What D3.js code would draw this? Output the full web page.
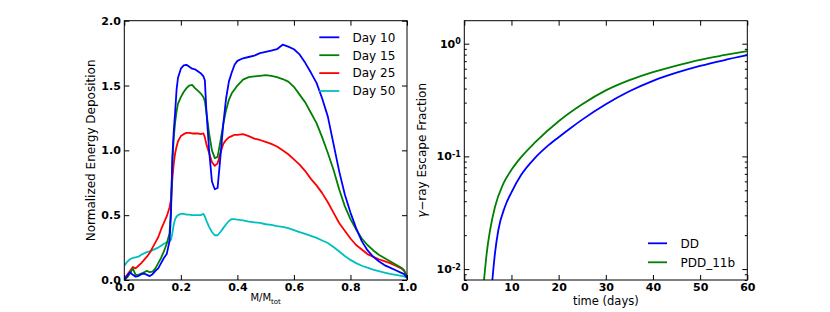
<!DOCTYPE html>
<html>
<head>
<meta charset="utf-8">
<script src="https://cdn.jsdelivr.net/npm/d3@7"></script>
<style>
  html, body { margin: 0; padding: 0; background: #fff; }
  svg { display: block; font-family: "DejaVu Sans", sans-serif; }
</style>
</head>
<body>
<svg id="chart" width="830" height="312"></svg>
<script>
// ---------------- DATA ----------------
const massX = [0,0.01,0.02,0.03,0.04,0.05,0.06,0.07,0.08,0.09,0.10,0.11,0.12,0.13,0.14,0.15,0.16,0.165,0.17,0.175,0.18,0.185,0.19,0.2,0.21,0.22,0.23,0.24,0.25,0.26,0.27,0.28,0.285,0.29,0.3,0.31,0.32,0.33,0.34,0.35,0.36,0.37,0.38,0.39,0.4,0.42,0.44,0.46,0.48,0.5,0.52,0.54,0.56,0.58,0.6,0.62,0.64,0.66,0.68,0.7,0.72,0.74,0.76,0.78,0.8,0.82,0.84,0.86,0.88,0.9,0.92,0.94,0.96,0.98,0.99,1.0];

const day10 = [0.005,0.03,0.06,0.04,0.026,0.03,0.045,0.05,0.04,0.03,0.045,0.07,0.09,0.13,0.17,0.2,0.3,0.5,0.95,1.15,1.3,1.47,1.56,1.63,1.655,1.66,1.645,1.63,1.625,1.61,1.595,1.57,1.54,1.32,1.0,0.76,0.7,0.71,0.95,1.2,1.4,1.53,1.6,1.66,1.69,1.71,1.72,1.73,1.75,1.76,1.77,1.78,1.815,1.8,1.78,1.74,1.675,1.6,1.52,1.4,1.26,1.05,0.84,0.66,0.52,0.4,0.3,0.23,0.18,0.145,0.115,0.095,0.075,0.055,0.045,0.015];

const day15 = [0.0,0.02,0.05,0.09,0.04,0.04,0.05,0.06,0.07,0.06,0.065,0.09,0.13,0.17,0.22,0.28,0.36,0.55,0.9,1.1,1.22,1.3,1.36,1.41,1.45,1.48,1.5,1.505,1.48,1.46,1.44,1.41,1.38,1.3,1.13,1.0,0.94,0.95,1.07,1.2,1.31,1.39,1.44,1.47,1.5,1.545,1.565,1.57,1.575,1.58,1.575,1.565,1.55,1.53,1.49,1.43,1.37,1.29,1.21,1.1,0.98,0.85,0.7,0.57,0.47,0.39,0.32,0.27,0.23,0.195,0.17,0.145,0.12,0.095,0.075,0.02];

const day25 = [0.0,0.04,0.07,0.1,0.09,0.11,0.13,0.155,0.18,0.21,0.25,0.29,0.33,0.39,0.44,0.49,0.56,0.62,0.78,0.9,0.98,1.03,1.07,1.11,1.125,1.135,1.135,1.13,1.13,1.13,1.125,1.13,1.1,1.05,0.98,0.91,0.88,0.9,0.98,1.05,1.08,1.1,1.11,1.12,1.12,1.125,1.11,1.09,1.08,1.065,1.05,1.03,1.0,0.97,0.93,0.89,0.84,0.78,0.73,0.67,0.6,0.52,0.44,0.38,0.32,0.27,0.235,0.2,0.18,0.16,0.145,0.13,0.11,0.09,0.07,0.025];

const day50 = [0.11,0.14,0.16,0.17,0.175,0.18,0.195,0.205,0.215,0.22,0.23,0.24,0.25,0.265,0.28,0.29,0.3,0.31,0.36,0.43,0.47,0.49,0.5,0.51,0.51,0.505,0.505,0.5,0.5,0.5,0.5,0.51,0.49,0.46,0.41,0.37,0.345,0.345,0.37,0.4,0.43,0.455,0.47,0.47,0.465,0.46,0.45,0.445,0.44,0.43,0.425,0.415,0.41,0.4,0.385,0.37,0.355,0.34,0.325,0.305,0.285,0.255,0.22,0.185,0.155,0.13,0.11,0.095,0.08,0.068,0.057,0.047,0.04,0.032,0.028,0.02];

const depositionNames = ["Day 10","Day 15","Day 25","Day 50"];
const depositionColors = ["#0000ff","#008000","#ff0000","#00bfbf"];

const ddDays = [5.95,6.5,7.2,8.6,10,12,15,17.5,20,22.5,25,30,35,40,45,50,55,60];
const ddEscape = [0.008,0.0138,0.022,0.0356,0.048,0.068,0.097,0.122,0.148,0.178,0.212,0.29,0.378,0.468,0.553,0.635,0.713,0.79];
const pddDays = [4.18,4.75,5.45,6.5,8.27,10,12,15,20,25,30,35,40,45,50,55,60];
const pddEscape = [0.008,0.0138,0.022,0.0356,0.0573,0.076,0.098,0.133,0.205,0.29,0.385,0.475,0.56,0.64,0.72,0.79,0.86];
const escapeNames = ["DD","PDD_11b"];
const escapeColors = ["#0000ff","#008000"];

const leftXTicks = [0,0.2,0.4,0.6,0.8,1.0];
const leftYTicks = [0,0.5,1.0,1.5,2.0];
const rightXTicks = [0,10,20,30,40,50,60];
const rightYMajor = [0.01,0.1,1];
const rightYExp = ["-2","-1","0"];

// ---------------- LAYOUT ----------------
const svg = d3.select("#chart");
const L = {x0:124.3, x1:407, y0:280, y1:20.7};
const R = {x0:464.3, x1:747.3, y0:280, y1:20.7};
const tickFont = 11;

const xL = d3.scaleLinear().domain([0,1]).range([L.x0, L.x1]);
const yL = d3.scaleLinear().domain([0,2]).range([L.y0, L.y1]);
const xR = d3.scaleLinear().domain([0,60]).range([R.x0, R.x1]);
const yR = d3.scaleLog().domain([0.008,1.6]).range([R.y0, R.y1]);

function styleAxis(g) {
  g.select(".domain").remove();
  g.selectAll(".tick line").attr("stroke","#000").attr("stroke-width",1);
  g.selectAll(".tick text").attr("fill","#000").attr("font-size",tickFont)
    .attr("font-weight","bold").attr("font-family","DejaVu Sans, sans-serif");
}

// ---------- LEFT PANEL ----------
const fmt1 = d3.format(".1f");
svg.append("g").attr("transform",`translate(0,${L.y0})`)
  .call(d3.axisBottom(xL).tickValues(leftXTicks).tickFormat(fmt1).tickSizeInner(-5).tickSizeOuter(0).tickPadding(3.5))
  .call(styleAxis);
svg.append("g").attr("transform",`translate(0,${L.y1})`)
  .call(d3.axisTop(xL).tickValues(leftXTicks).tickFormat("").tickSizeInner(-5).tickSizeOuter(0))
  .call(styleAxis);
svg.append("g").attr("transform",`translate(${L.x0},0)`)
  .call(d3.axisLeft(yL).tickValues(leftYTicks).tickFormat(fmt1).tickSizeInner(-5).tickSizeOuter(0).tickPadding(3.5))
  .call(styleAxis);
svg.append("g").attr("transform",`translate(${L.x1},0)`)
  .call(d3.axisRight(yL).tickValues(leftYTicks).tickFormat("").tickSizeInner(-5).tickSizeOuter(0))
  .call(styleAxis);

svg.append("clipPath").attr("id","clipL").append("rect")
  .attr("x",L.x0).attr("y",L.y1).attr("width",L.x1-L.x0).attr("height",L.y0-L.y1);

const lineL = d3.line().x((d,i)=>xL(massX[i])).y(d=>yL(d));
const depSeries = [day10, day15, day25, day50];
svg.append("g").attr("clip-path","url(#clipL)").selectAll("path").data(depSeries.slice().reverse()).join("path")
  .attr("d", lineL).attr("fill","none")
  .attr("stroke",(d,i)=>depositionColors[depSeries.length-1-i])
  .attr("stroke-width",1.8).attr("stroke-linejoin","round");

svg.append("rect").attr("x",L.x0).attr("y",L.y1).attr("width",L.x1-L.x0).attr("height",L.y0-L.y1)
  .attr("fill","none").attr("stroke","#000").attr("stroke-width",1);

// legend left
const legL = svg.append("g");
depositionNames.forEach((n,i)=>{
  const yy = 37.3 + i*17.9;
  legL.append("line").attr("x1",319.3).attr("x2",339.3).attr("y1",yy).attr("y2",yy)
    .attr("stroke",depositionColors[i]).attr("stroke-width",1.8);
  legL.append("text").attr("x",352.5).attr("y",yy).attr("dy","0.36em")
    .attr("font-size",12).attr("fill","#000").text(n);
});

// axis labels left
svg.append("text").attr("transform","translate(94.5,150.4) rotate(-90)")
  .attr("text-anchor","middle").attr("font-size",12).attr("fill","#000")
  .text("Normalized Energy Deposition");
const mLabel = svg.append("text").attr("x",(L.x0+L.x1)/2).attr("y",301)
  .attr("text-anchor","middle").attr("font-size",10).attr("fill","#000");
mLabel.append("tspan").text("M/M");
mLabel.append("tspan").attr("font-size",7).attr("dy",2.5).text("tot");

// ---------- RIGHT PANEL ----------
svg.append("g").attr("transform",`translate(0,${R.y0})`)
  .call(d3.axisBottom(xR).tickValues(rightXTicks).tickFormat(d3.format("d")).tickSizeInner(-5).tickSizeOuter(0).tickPadding(3.5))
  .call(styleAxis);
svg.append("g").attr("transform",`translate(0,${R.y1})`)
  .call(d3.axisTop(xR).tickValues(rightXTicks).tickFormat("").tickSizeInner(-5).tickSizeOuter(0))
  .call(styleAxis);

const minorVals = [];
[-3,-2,-1,0].forEach(e=>{ for(let m=2;m<=9;m++){ const v=m*Math.pow(10,e); if(v>=0.008 && v<=1.6) minorVals.push(v);} });

const yLeftMajor = svg.append("g").attr("transform",`translate(${R.x0},0)`)
  .call(d3.axisLeft(yR).tickValues(rightYMajor).tickFormat(()=>"10").tickSizeInner(-5).tickSizeOuter(0).tickPadding(3.5))
  .call(styleAxis);
yLeftMajor.selectAll(".tick text").each(function(d,i){
  d3.select(this).append("tspan").attr("dy","-0.45em").attr("font-size",8).text(rightYExp[i]);
});
svg.append("g").attr("transform",`translate(${R.x0},0)`)
  .call(d3.axisLeft(yR).tickValues(minorVals).tickFormat("").tickSizeInner(-2.5).tickSizeOuter(0))
  .call(styleAxis);
svg.append("g").attr("transform",`translate(${R.x1},0)`)
  .call(d3.axisRight(yR).tickValues(rightYMajor).tickFormat("").tickSizeInner(-5).tickSizeOuter(0))
  .call(styleAxis);
svg.append("g").attr("transform",`translate(${R.x1},0)`)
  .call(d3.axisRight(yR).tickValues(minorVals).tickFormat("").tickSizeInner(-2.5).tickSizeOuter(0))
  .call(styleAxis);

svg.append("clipPath").attr("id","clipR").append("rect")
  .attr("x",R.x0).attr("y",R.y1).attr("width",R.x1-R.x0).attr("height",R.y0-R.y1);

const escSeries = [
  ddDays.map((t,i)=>[t, ddEscape[i]]),
  pddDays.map((t,i)=>[t, pddEscape[i]])
];
const lineR = d3.line().x(d=>xR(d[0])).y(d=>yR(d[1])).curve(d3.curveMonotoneX);
svg.append("g").attr("clip-path","url(#clipR)").selectAll("path").data(escSeries).join("path")
  .attr("d", lineR).attr("fill","none").attr("stroke",(d,i)=>escapeColors[i]).attr("stroke-width",1.8);

svg.append("rect").attr("x",R.x0).attr("y",R.y1).attr("width",R.x1-R.x0).attr("height",R.y0-R.y1)
  .attr("fill","none").attr("stroke","#000").attr("stroke-width",1);

// legend right
escapeNames.forEach((n,i)=>{
  const yy = 243.3 + i*19;
  svg.append("line").attr("x1",648).attr("x2",667).attr("y1",yy).attr("y2",yy)
    .attr("stroke",escapeColors[i]).attr("stroke-width",1.8);
  svg.append("text").attr("x",680.5).attr("y",yy).attr("dy","0.36em")
    .attr("font-size",12).attr("fill","#000").text(n);
});

// axis labels right
const gl = svg.append("text").attr("transform","translate(425.5,150.4) rotate(-90)")
  .attr("text-anchor","middle").attr("font-size",12).attr("fill","#000");
gl.append("tspan").attr("font-style","italic").text("γ");
gl.append("tspan").text("−ray Escape Fraction");
svg.append("text").attr("x",(R.x0+R.x1)/2).attr("y",304.5).attr("text-anchor","middle")
  .attr("font-size",11.5).attr("fill","#000").text("time (days)");
</script>
</body>
</html>
